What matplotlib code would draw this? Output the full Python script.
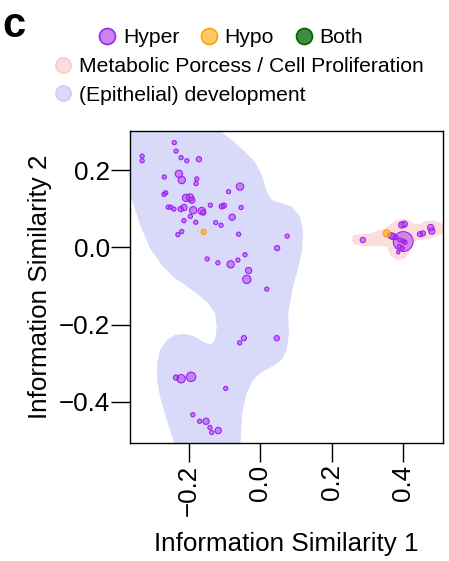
import numpy as np
import matplotlib
matplotlib.use("Agg")
import matplotlib.pyplot as plt
from matplotlib.lines import Line2D
from matplotlib.patches import Polygon
from matplotlib.ticker import FuncFormatter

plt.rcParams["font.family"] = ["Liberation Sans", "DejaVu Sans"]

# ------------------------------------------------------------
# data
# ------------------------------------------------------------

# hyper-methylated terms: x, y, relative size
hyper_x = [-0.241, -0.236, -0.331, -0.331, -0.222, -0.206, -0.172, -0.269, -0.228, -0.220,
           -0.178, -0.180, -0.057, -0.270, -0.265, -0.208, -0.197, -0.192, -0.089, -0.258,
           -0.251, -0.242, -0.223, -0.214, -0.188, -0.164, -0.160, -0.140, -0.108, -0.102,
           -0.054, -0.079, -0.196, -0.214, -0.181, -0.125, -0.110, -0.220, -0.231, -0.061,
           0.075, 0.047, -0.043, -0.149, -0.119, -0.083, -0.063, -0.033, -0.038, 0.018,
           -0.046, -0.058, 0.046, -0.236, -0.222, -0.194, -0.097, -0.189, -0.170, -0.152,
           -0.141, -0.118, -0.136,
           0.287, 0.366, 0.372, 0.400, 0.391, 0.400, 0.405, 0.389, 0.397, 0.386,
           0.380, 0.396, 0.403, 0.447, 0.455, 0.477, 0.480]
hyper_y = [0.271, 0.249, 0.236, 0.224, 0.232, 0.224, 0.228, 0.182, 0.190, 0.174,
           0.177, 0.165, 0.157, 0.137, 0.141, 0.128, 0.129, 0.122, 0.144, 0.104,
           0.104, 0.099, 0.099, 0.103, 0.096, 0.094, 0.090, 0.109, 0.106, 0.108,
           0.103, 0.078, 0.080, 0.069, 0.065, 0.064, 0.057, 0.041, 0.033, 0.034,
           0.029, -0.002, -0.019, -0.030, -0.040, -0.044, -0.033, -0.060, -0.083, -0.108,
           -0.235, -0.247, -0.235, -0.337, -0.340, -0.335, -0.365, -0.433, -0.450, -0.450,
           -0.466, -0.474, -0.479,
           0.019, 0.030, 0.028, 0.015, 0.019, 0.016, 0.013, 0.002, -0.002, -0.013,
           0.025, 0.058, 0.060, 0.034, 0.036, 0.051, 0.042]
hyper_size = [2, 2, 2, 2, 2, 2, 2.5, 2, 3.5, 3.5,
              2, 2, 3.5, 2, 2, 3.5, 3.5, 3, 2, 2,
              2, 2, 2.5, 3, 3.5, 3.5, 2.5, 2, 2.5, 2.5,
              2, 3, 2, 2, 2, 2, 2, 2, 2, 2,
              2, 2.5, 2, 2, 2, 3.5, 2, 3, 4, 2,
              2.5, 2, 2.5, 2.5, 4, 4.5, 2, 2, 2, 3,
              2, 3, 2,
              2.5, 3, 3, 9.5, 2, 2, 2, 2, 2, 1.5,
              2, 3, 3, 2.5, 2.5, 3, 3]

# hypo-methylated terms
hypo_x = [-0.159, 0.354]
hypo_y = [0.040, 0.036]
hypo_size = [2.5, 3.5]

# outline of the "(Epithelial) development" cluster
dev_x = [-0.393, -0.113, -0.113, -0.080, -0.043, -0.015, 0.004, 0.018, 0.032, 0.060,
         0.088, 0.111, 0.120, 0.116, 0.106, 0.094, 0.088, 0.078, 0.080, 0.074,
         0.060, 0.032, 0.004, -0.020, -0.038, -0.051, -0.054, -0.057, -0.248, -0.241,
         -0.262, -0.281, -0.289, -0.289, -0.281, -0.262, -0.239, -0.211, -0.183, -0.155,
         -0.138, -0.127, -0.122, -0.127, -0.146, -0.178, -0.211, -0.239, -0.276, -0.309,
         -0.337, -0.356, -0.371, -0.393]
dev_y = [0.329, 0.329, 0.301, 0.278, 0.247, 0.221, 0.187, 0.144, 0.122, 0.114,
         0.105, 0.079, 0.040, -0.011, -0.054, -0.092, -0.119, -0.171, -0.222, -0.265,
         -0.291, -0.309, -0.322, -0.343, -0.377, -0.429, -0.481, -0.537, -0.537, -0.507,
         -0.446, -0.386, -0.343, -0.300, -0.265, -0.240, -0.227, -0.224, -0.231, -0.247,
         -0.251, -0.240, -0.205, -0.171, -0.145, -0.119, -0.097, -0.080, -0.046, -0.002,
         0.058, 0.114, 0.148, 0.174]

# outline of the "Metabolic Porcess / Cell Proliferation" cluster
met_x = [0.257, 0.260, 0.307, 0.344, 0.368, 0.386, 0.410, 0.428, 0.447, 0.466,
         0.489, 0.508, 0.523, 0.503, 0.475, 0.442, 0.424, 0.419, 0.405, 0.382,
         0.363, 0.354, 0.326, 0.288, 0.260]
met_y = [0.021, 0.032, 0.036, 0.047, 0.062, 0.073, 0.073, 0.062, 0.060, 0.069,
         0.069, 0.062, 0.045, 0.032, 0.023, 0.019, 0.010, -0.011, -0.028, -0.033,
         -0.020, 0.002, 0.003, 0.003, 0.009]

x_ticks = [-0.2, 0.0, 0.2, 0.4]
y_ticks = [-0.4, -0.2, 0.0, 0.2]

# ------------------------------------------------------------
# style
# ------------------------------------------------------------

PURPLE = "#A020F0"
ORANGE = "#FFA500"
GREEN = "#006400"
DEV_FILL = "#D9D9FA"
MET_FILL = "#FDDCDD"


def to_area(sizes):
    # radius (px at 100 dpi) -> marker area in pt^2
    return (2 * np.asarray(sizes) * 0.75) ** 2


def main():
    fig = plt.figure(figsize=(4.49, 5.61), dpi=100)
    ax = fig.add_axes([0.290, 0.2098, 0.6971, 0.5567])

    ax.add_patch(Polygon(np.column_stack([dev_x, dev_y]), closed=True,
                         facecolor=DEV_FILL, edgecolor="none", zorder=1))
    ax.add_patch(Polygon(np.column_stack([met_x, met_y]), closed=True,
                         facecolor=MET_FILL, edgecolor="none", zorder=1))

    # big points first so the small ones stay visible
    order = np.argsort(hyper_size)[::-1]
    hx = np.array(hyper_x)[order]
    hy = np.array(hyper_y)[order]
    hs = np.array(hyper_size)[order]
    ax.scatter(hx, hy, s=to_area(hs), facecolor=matplotlib.colors.to_rgba(PURPLE, 0.45),
               edgecolor=PURPLE, linewidths=0.8, zorder=3)
    ax.scatter(hypo_x, hypo_y, s=to_area(hypo_size),
               facecolor=matplotlib.colors.to_rgba(ORANGE, 0.6),
               edgecolor=ORANGE, linewidths=0.8, zorder=3)

    ax.set_xlim(-0.3644, 0.512)
    ax.set_ylim(-0.507, 0.301)
    ax.set_xticks(x_ticks)
    ax.set_yticks(y_ticks)
    fmt = FuncFormatter(lambda v, p: f"{v:.1f}".replace("-", "\u2212"))
    ax.xaxis.set_major_formatter(fmt)
    ax.yaxis.set_major_formatter(fmt)
    ax.tick_params(axis="both", length=13.7, width=1.0, labelsize=18.7, color="black")
    ax.tick_params(axis="x", labelrotation=90, pad=1.5)
    ax.tick_params(axis="y", pad=0.7)
    for spine in ax.spines.values():
        spine.set_linewidth(1.0)

    ax.set_xlabel("Information Similarity 1", fontsize=18.7)
    ax.set_ylabel("Information Similarity 2", fontsize=18.7)
    ax.xaxis.set_label_coords(0.5, -0.285)
    ax.yaxis.set_label_coords(-0.25, 0.5)

    # legends
    h1 = [
        Line2D([], [], ls="", marker="o", markersize=11.5,
               markerfacecolor=matplotlib.colors.to_rgba(PURPLE, 0.55),
               markeredgecolor=PURPLE, markeredgewidth=1.2, label="Hyper"),
        Line2D([], [], ls="", marker="o", markersize=11.5,
               markerfacecolor=matplotlib.colors.to_rgba(ORANGE, 0.6),
               markeredgecolor=ORANGE, markeredgewidth=1.2, label="Hypo"),
        Line2D([], [], ls="", marker="o", markersize=11.5,
               markerfacecolor=matplotlib.colors.to_rgba(GREEN, 0.75),
               markeredgecolor=GREEN, markeredgewidth=1.2, label="Both"),
    ]
    fig.legend(handles=h1, loc="center", bbox_to_anchor=(0.514, 0.933), ncol=3,
               frameon=False, fontsize=15.2, borderpad=0, handlelength=0.8,
               handletextpad=0.35, columnspacing=1.0)

    h2 = [
        Line2D([], [], ls="", marker="o", markersize=11,
               markerfacecolor=MET_FILL, markeredgecolor="#F8C8CA",
               markeredgewidth=1.0, label="Metabolic Porcess / Cell Proliferation"),
        Line2D([], [], ls="", marker="o", markersize=11,
               markerfacecolor=DEV_FILL, markeredgecolor="#C8C8F4",
               markeredgewidth=1.0, label="(Epithelial) development"),
    ]
    fig.legend(handles=h2, loc="upper left", bbox_to_anchor=(0.121, 0.898), ncol=1,
               frameon=False, fontsize=15.2, borderpad=0, handlelength=0.8,
               handletextpad=0.35, labelspacing=0.45, borderaxespad=0)

    fig.text(0.006, 0.934, "c", fontsize=30, fontweight="bold", va="baseline")

    fig.savefig("out.png", dpi=100, facecolor="white")
    plt.close(fig)


if __name__ == "__main__":
    main()
